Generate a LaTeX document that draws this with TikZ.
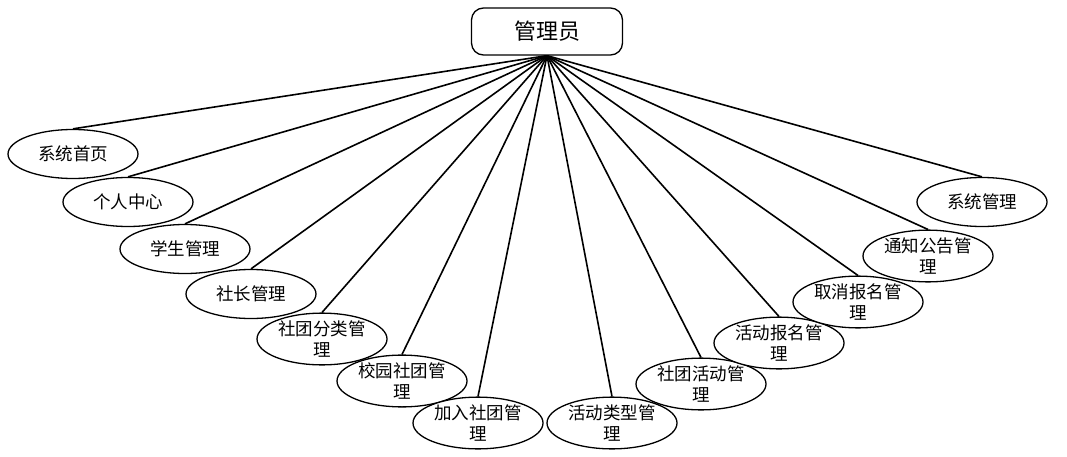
\documentclass[tikz,border=0pt]{standalone}
\usepackage{fontspec}
\setmainfont{Noto Sans CJK SC}
\usetikzlibrary{shapes.geometric,backgrounds}
\begin{document}
\begin{tikzpicture}[x=1pt,y=-1pt,
  rootbox/.style={draw=black,line width=1.3pt,rounded corners=12pt,fill=white,minimum width=151pt,minimum height=47pt,font=\fontsize{22}{26}\selectfont},
  item/.style={ellipse,draw=black,line width=1.3pt,fill=white,minimum width=130pt,minimum height=49pt,inner sep=0pt,align=center,font=\fontsize{17.5}{21}\selectfont},
  conn/.style={line width=1.6pt}]
\useasboundingbox (0,0) rectangle (1067,457);
\node[rootbox] (root) at (547,31.5) {管理员};
\node[item] (n1) at (73,154) {系统首页};
\node[item] (n2) at (128,202) {个人中心};
\node[item] (n3) at (185,249) {学生管理};
\node[item] (n4) at (251,294) {社长管理};
\node[item] (n5) at (322,339) {社团分类管\\理};
\node[item] (n6) at (402,381) {校园社团管\\理};
\node[item] (n7) at (478,423) {加入社团管\\理};
\node[item] (n8) at (612,423) {活动类型管\\理};
\node[item] (n9) at (701,384) {社团活动管\\理};
\node[item] (n10) at (779,343) {活动报名管\\理};
\node[item] (n11) at (858,302) {取消报名管\\理};
\node[item] (n12) at (928,256) {通知公告管\\理};
\node[item] (n13) at (982,202) {系统管理};
\begin{pgfonlayer}{background}
\foreach \i in {1,...,13} {
  \draw[conn] (root.south) -- (n\i.north);
}
\end{pgfonlayer}
\end{tikzpicture}
\end{document}
